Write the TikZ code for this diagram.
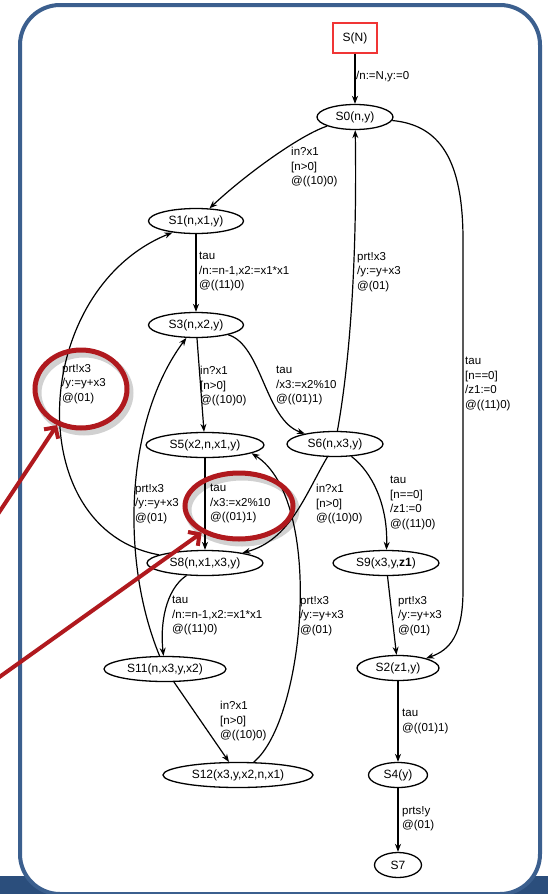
\documentclass[tikz,border=0pt]{standalone}
\usepackage{fontspec}
\setmainfont{Liberation Sans}
\usepackage{tikz}
\usetikzlibrary{shapes.geometric, arrows.meta, positioning, calc}
\usepackage{xcolor}
\definecolor{framebl}{HTML}{3B5F8E}
\definecolor{stripbl}{HTML}{2B4E7C}
\definecolor{markred}{HTML}{B0191E}
\definecolor{initred}{HTML}{F03535}

\begin{document}
\begin{tikzpicture}[
    x=1pt, y=-1pt,
    state/.style={ellipse, draw=black, line width=1.3pt, minimum height=25pt, inner sep=1pt, font=\fontsize{12}{14}\selectfont},
    init/.style={rectangle, draw=initred, line width=1.4pt, minimum width=44pt, minimum height=30pt, font=\fontsize{12}{14}\selectfont},
    lbl/.style={anchor=north west, align=left, inner sep=0pt, font=\fontsize{11.5}{14.5}\selectfont},
    trans/.style={-{Stealth[length=8pt, width=6pt]}, line width=1.2pt},
    markring/.style={ellipse, draw=markred, line width=5pt, inner sep=0pt},
    ringshade/.style={draw=black, opacity=0.18, line width=7pt},
    markarrow/.style={-{Straight Barb[length=8pt, width=17pt]}, draw=markred, line width=4pt}]

    % Slide frame
    \useasboundingbox (0,0) rectangle (548,894);
    \fill[white] (0,0) rectangle (548,894);
    \fill[stripbl] (0,876) rectangle (548,894);
    \draw[framebl, line width=4pt, fill=white, rounded corners=40pt] (20,5) rectangle (540,894);

    % States
    \node[init] (SN) at (355,38) {S(N)};
    \node[state, minimum width=76pt] (S0) at (355,117) {S0(n,y)};
    \node[state, minimum width=95pt] (S1) at (196,221) {S1(n,x1,y)};
    \node[state, minimum width=95pt] (S3) at (196,325) {S3(n,x2,y)};
    \node[state, minimum width=118pt] (S5) at (205,445) {S5(x2,n,x1,y)};
    \node[state, minimum width=96pt] (S6) at (335,444) {S6(n,x3,y)};
    \node[state, minimum width=116pt] (S8) at (205,563) {S8(n,x1,x3,y)};
    \node[state, minimum width=106pt] (S9) at (386,563) {S9(x3,y,\textbf{z1})};
    \node[state, minimum width=122pt] (S11) at (165,669) {S11(n,x3,y,x2)};
    \node[state, minimum width=82pt] (S2) at (398,668) {S2(z1,y)};
    \node[state, minimum width=150pt] (S12) at (238,775) {S12(x3,y,x2,n,x1)};
    \node[state, minimum width=59pt] (S4) at (398,775) {S4(y)};
    \node[state, minimum width=47pt] (S7) at (398,865) {S7};

    % Transitions
    \draw[trans] (SN) -- (S0);
    \draw[trans] (S0) .. controls (300,135) and (245,175) .. (S1);
    \draw[trans] (S0) .. controls (440,125) and (463,160) .. (463,240) -- (463,590) .. controls (463,635) and (450,650) .. (S2);
    \draw[trans] (S1) -- (S3);
    \draw[trans] (S3) -- (S5);
    \draw[trans] (S3) .. controls (262,345) and (265,420) .. (S6);
    \draw[trans] (S6) .. controls (352,350) and (357,240) .. (S0);
    \draw[trans] (S6) .. controls (305,495) and (290,540) .. (S8);
    \draw[trans] (S6) .. controls (372,472) and (388,505) .. (S9);
    \draw[trans] (S5) -- (S8);
    \draw[trans] (S8) .. controls (20,530) and (30,290) .. (S1.206);
    \draw[trans] (S11) .. controls (120,560) and (125,420) .. (S3);
    \draw[trans] (S8) .. controls (165,590) and (160,625) .. (S11);
    \draw[trans] (S11) -- (S12);
    \draw[trans] (S12) .. controls (305,720) and (325,500) .. (S5.350);
    \draw[trans] (S9) -- (S2);
    \draw[trans] (S2) -- (S4);
    \draw[trans] (S4) -- (S7);

    % Transition labels
    \node[lbl] (l0) at (356,71) {/n:=N,y:=0};
    \node[lbl] (l1) at (291,147) {in?x1\\{}[n>0]\\@((10)0)};
    \node[lbl] (l2) at (465,357) {tau\\{}[n==0]\\/z1:=0\\@((11)0)};
    \node[lbl] (l3) at (199,252) {tau\\/n:=n-1,x2:=x1*x1\\@((11)0)};
    \node[lbl] (l4) at (200,366) {in?x1\\{}[n>0]\\@((10)0)};
    \node[lbl] (l5) at (276,366) {tau\\/x3:=x2\%10\\@((01)1)};
    \node[lbl] (l6) at (357,252) {prt!x3\\/y:=y+x3\\@(01)};
    \node[lbl] (l7) at (316,484) {in?x1\\{}[n>0]\\@((10)0)};
    \node[lbl] (l8) at (390,476) {tau\\{}[n==0]\\/z1:=0\\@((11)0)};
    \node[lbl] (l9) at (210,484) {tau\\/x3:=x2\%10\\@((01)1)};
    \node[lbl] (l10) at (62,364) {prt!x3\\/y:=y+x3\\@(01)};
    \node[lbl] (l11) at (135,484) {prt!x3\\/y:=y+x3\\@(01)};
    \node[lbl] (l12) at (172,596) {tau\\/n:=n-1,x2:=x1*x1\\@((11)0)};
    \node[lbl] (l13) at (220,701) {in?x1\\{}[n>0]\\@((10)0)};
    \node[lbl] (l14) at (300,596) {prt!x3\\/y:=y+x3\\@(01)};
    \node[lbl] (l15) at (398,596) {prt!x3\\/y:=y+x3\\@(01)};
    \node[lbl] (l16) at (402,709) {tau\\@((01)1)};
    \node[lbl] (l17) at (402,806) {prts!y\\@(01)};

    % Red highlight marks
    \draw[ringshade] (84,393) ellipse [x radius=46, y radius=39];
    \draw[ringshade] (242,510) ellipse [x radius=54, y radius=33];
    \node[markring, minimum width=92pt, minimum height=78pt] (ring1) at (81,389) {};
    \node[markring, minimum width=108pt, minimum height=66pt] (ring2) at (239,506) {};
    \coordinate (tail1) at (-2,514);
    \coordinate (tail2) at (-2,678);
    \draw[markarrow] (tail1) -- (ring1);
    \draw[markarrow] (tail2) -- (ring2);
\end{tikzpicture}
\end{document}
